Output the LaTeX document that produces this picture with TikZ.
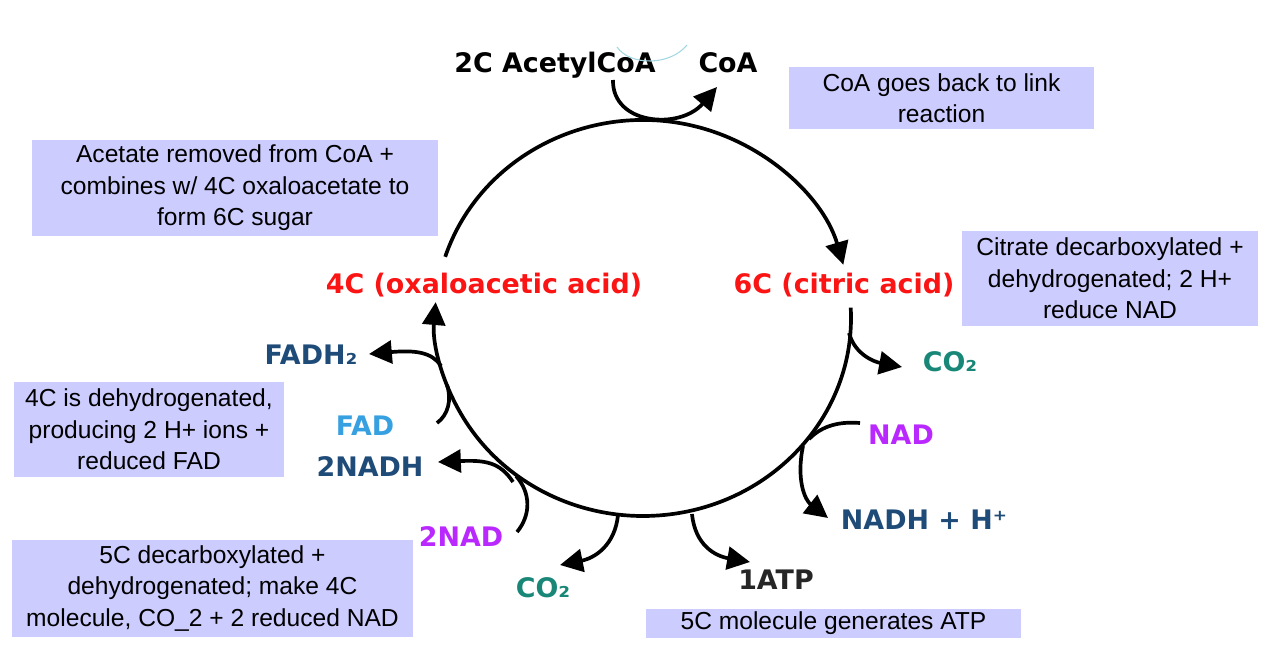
\documentclass[tikz,border=0pt]{standalone}
\usepackage{fontspec}
\setmainfont{Liberation Sans}
\newfontfamily\lblfont{DejaVu Sans}
\usetikzlibrary{calc,arrows.meta}
\definecolor{boxblue}{RGB}{204,204,255}
\definecolor{acidred}{RGB}{250,20,20}
\definecolor{cotwo}{RGB}{25,135,120}
\definecolor{nadblue}{RGB}{30,75,120}
\definecolor{fadblue}{RGB}{55,160,225}
\definecolor{nadpurple}{RGB}{185,40,255}
\definecolor{faint}{RGB}{160,215,225}
\begin{document}
\begin{tikzpicture}[x=0.02cm, y=0.02cm,
	infobox/.style = {fill=boxblue, align=center, inner sep=0pt,
	  font=\fontsize{14}{17.9}\selectfont},
	lbl/.style = {font=\lblfont\bfseries\fontsize{15.3}{18}\selectfont,
	  inner sep=0pt, text height=11pt, text depth=0pt},
	loopline/.style = {line width=2.1pt},
	branch/.style = {line width=2.1pt, -{Triangle[length=13pt,width=13pt]}}
	]
  \useasboundingbox (0,0) rectangle (1280,-655);
  \coordinate (c) at (643,-318);
  % labels round the cycle
  \node [lbl] (acoa) at (555,-63) {2C AcetylCoA};
  \node [lbl] (coa) at (728,-63) {CoA};
  \node [lbl, text=acidred] (oxa) at (484,-284) {4C (oxaloacetic acid)};
  \node [lbl, text=acidred] (cit) at (844,-284) {6C (citric acid)};
  \node [lbl, text=cotwo] (co2a) at (950,-362) {CO₂};
  \node [lbl, text=nadpurple] (nad) at (901,-435) {NAD};
  \node [lbl, text=nadblue] (nadh) at (924,-520) {NADH + H⁺};
  \node [lbl, text=black!85] (atp) at (776,-580) {1ATP};
  \node [lbl, text=cotwo] (co2b) at (543,-588) {CO₂};
  \node [lbl, text=nadpurple] (nadb) at (461,-537) {2NAD};
  \node [lbl, text=nadblue] (nadhb) at (370,-467) {2NADH};
  \node [lbl, text=fadblue] (fad) at (365,-426) {FAD};
  \node [lbl, text=nadblue] (fadh) at (311,-355) {FADH₂};
  % notes
  \node [infobox, minimum width=8.12cm, minimum height=1.92cm] (nacetate) at (235,-188)
    {Acetate removed from CoA +\\ combines w/ 4C oxaloacetate to\\ form 6C sugar};
  \node [infobox, minimum width=6.1cm, minimum height=1.24cm] (ncoa) at (941.5,-98)
    {CoA goes back to link\\ reaction};
  \node [infobox, minimum width=5.92cm, minimum height=1.9cm] (ncitrate) at (1110,-278.5)
    {Citrate decarboxylated +\\ dehydrogenated; 2 H+\\ reduce NAD};
  \node [infobox, minimum width=5.4cm, minimum height=1.9cm] (nfourc) at (149,-429.5)
    {4C is dehydrogenated,\\ producing 2 H+ ions +\\ reduced FAD};
  \node [infobox, minimum width=8.02cm, minimum height=1.94cm] (nfivec) at (212.5,-588.5)
    {5C decarboxylated +\\ dehydrogenated; make 4C\\ molecule, CO\_2 + 2 reduced NAD};
  \node [infobox, minimum width=7.5cm, minimum height=0.58cm] (natp) at (833.5,-623.5)
    {5C molecule generates ATP};
  % the cycle
  \draw [branch] ($(c)+(162:208 and 198)$) arc [start angle=162, end angle=15.6, x radius=208, y radius=198];
  \draw [branch] ($(c)+(3:208 and 198)$) arc [start angle=3, end angle=-184.6, x radius=208, y radius=198];
  % side branches
  \coordinate (coain) at (613,-80);
  \coordinate (coaout) at (717,-87);
  \draw [branch] (coain) .. controls (612,-125) and (680,-130) .. (coaout);
  \draw [faint, line width=0.6pt] (617,-47) .. controls (630,-66) and (670,-66) .. (687,-45);
  \coordinate (co2aout) at (902,-367);
  \draw [branch] (849,-333) .. controls (855,-355) and (875,-362) .. (co2aout);
  \coordinate (nadin) at (860,-423);
  \draw [loopline] (nadin) .. controls (835,-421) and (820,-428) .. (809,-439);
  \coordinate (nadhout) at (828,-518);
  \draw [branch] (803,-446) .. controls (796,-480) and (805,-500) .. (nadhout);
  \coordinate (atpout) at (750,-562);
  \draw [branch] (692,-514) .. controls (695,-545) and (715,-556) .. (atpout);
  \coordinate (co2bout) at (560,-565);
  \draw [branch] (618,-515) .. controls (615,-545) and (595,-558) .. (co2bout);
  \coordinate (nadbin) at (517,-532);
  \draw [loopline] (nadbin) .. controls (531,-515) and (531,-493) .. (516,-476);
  \coordinate (nadhbout) at (438,-462);
  \draw [branch] (513,-482) .. controls (500,-462) and (485,-460) .. (nadhbout);
  \coordinate (fadin) at (437,-423);
  \draw [loopline] (fadin) .. controls (448,-415) and (452,-400) .. (447,-385);
  \coordinate (fadhout) at (369,-354);
  \draw [branch] (441,-366) .. controls (432,-352) and (415,-350) .. (fadhout);
\end{tikzpicture}
\end{document}
